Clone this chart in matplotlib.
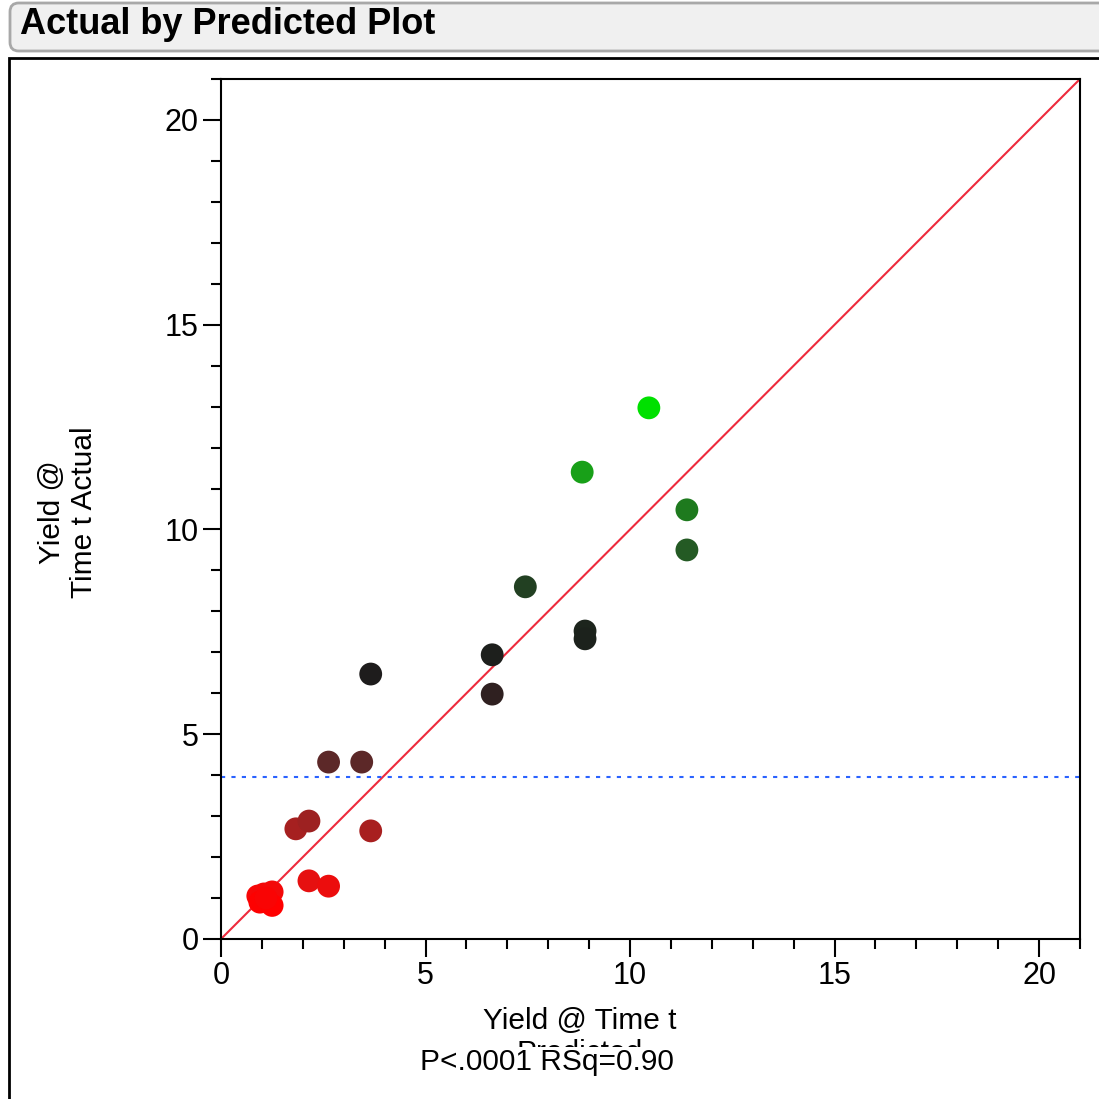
import matplotlib
matplotlib.use("Agg")
import matplotlib.pyplot as plt
from matplotlib.colors import LinearSegmentedColormap, Normalize
from matplotlib.patches import FancyBboxPatch, Rectangle
from matplotlib.ticker import MultipleLocator

plt.rcParams['font.family'] = ['Liberation Sans', 'DejaVu Sans']

title = "Actual by Predicted Plot"
y_label = "Yield @\nTime t Actual"
x_label_1 = "Yield @ Time t"
x_label_2 = "Predicted"
stat_text = "P<.0001 RSq=0.90"

predicted = [0.90, 1.05, 1.25, 0.95, 1.25, 1.10,
             2.15, 2.63,
             1.83, 2.15, 3.66,
             2.63, 3.44,
             3.66, 6.63, 6.63,
             8.90, 8.90, 7.44,
             11.39, 11.39, 8.83, 10.46]
actual = [1.05, 1.10, 1.15, 0.90, 0.82, 1.00,
          1.42, 1.29,
          2.69, 2.88, 2.64,
          4.32, 4.32,
          6.47, 6.94, 5.98,
          7.52, 7.33, 8.60,
          9.50, 10.48, 11.40, 12.97]
mean_actual = 3.96
axis_max = 21
major_ticks = [0, 5, 10, 15, 20]

fig = plt.figure(figsize=(10.99, 10.99), dpi=100)

# header bar
hdr = FancyBboxPatch((10/1099, 1-51/1099), 1.2, 48/1099,
                     boxstyle="round,pad=0,rounding_size=0.008",
                     transform=fig.transFigure, facecolor="#f0f0f0",
                     edgecolor="#a8a8a8", linewidth=2, clip_on=False)
fig.patches.append(hdr)
fig.text(20/1099, 1-25/1099, title, fontsize=26, fontweight="bold",
         va="center", ha="left")
# outer panel frame
frame = Rectangle((9/1099, -0.1), 1.2, 1.1 - 58/1099,
                  transform=fig.transFigure, facecolor="none",
                  edgecolor="black", linewidth=2, clip_on=False)
fig.patches.append(frame)

ax = fig.add_axes([221/1099, 1-939/1099, (1080-221)/1099, (939-79)/1099])
ax.set_xlim(0, axis_max)
ax.set_ylim(0, axis_max)

vmin, vmax = min(actual), max(actual)
def pos(v):
    return (v - vmin) / (vmax - vmin)
cmap = LinearSegmentedColormap.from_list(
    "rg", [(0.0, "#ff0000"), (pos(1.35), "#e81010"), (pos(2.7), "#a52020"),
           (pos(4.3), "#5c2828"), (pos(6.0), "#2e2020"), (pos(6.5), "#1e1c1c"),
           (pos(7.4), "#1c221c"), (pos(8.6), "#224022"), (pos(9.5), "#245a24"),
           (pos(10.5), "#1e7a1e"), (pos(11.4), "#18a018"), (1.0, "#00e000")])
norm = Normalize(vmin=vmin, vmax=vmax)

ax.plot([0, axis_max], [0, axis_max], color="#ee2a3c", linewidth=1.5, zorder=2)
ax.axhline(mean_actual, color="#2a62ff", linewidth=1.5, linestyle=(0, (2, 3)), zorder=2)
ax.scatter(predicted, actual, c=actual, cmap=cmap, norm=norm, s=270,
           edgecolors="none", zorder=3)

ax.set_xticks(major_ticks)
ax.set_yticks(major_ticks)
ax.xaxis.set_minor_locator(MultipleLocator(1))
ax.yaxis.set_minor_locator(MultipleLocator(1))
ax.tick_params(which="major", length=13, width=1.5, labelsize=22, pad=3)
ax.tick_params(which="minor", length=7, width=1.5)
for s in ax.spines.values():
    s.set_linewidth(1.5)

fig.text(580/1099, 1-1021/1099, x_label_1, fontsize=21.5, ha="center", va="center")
fig.text(580/1099, 1-1053/1099, x_label_2, fontsize=21.5, ha="center", va="center")
fig.text(547/1099, 1-1062/1099, stat_text, fontsize=21.5, ha="center", va="center",
         bbox=dict(facecolor="white", edgecolor="none", pad=1.0))
fig.text(68/1099, 1-512/1099, y_label, fontsize=21.5, ha="center", va="center",
         rotation=90, multialignment="center", linespacing=1.15)

fig.savefig("out.png", dpi=100)
